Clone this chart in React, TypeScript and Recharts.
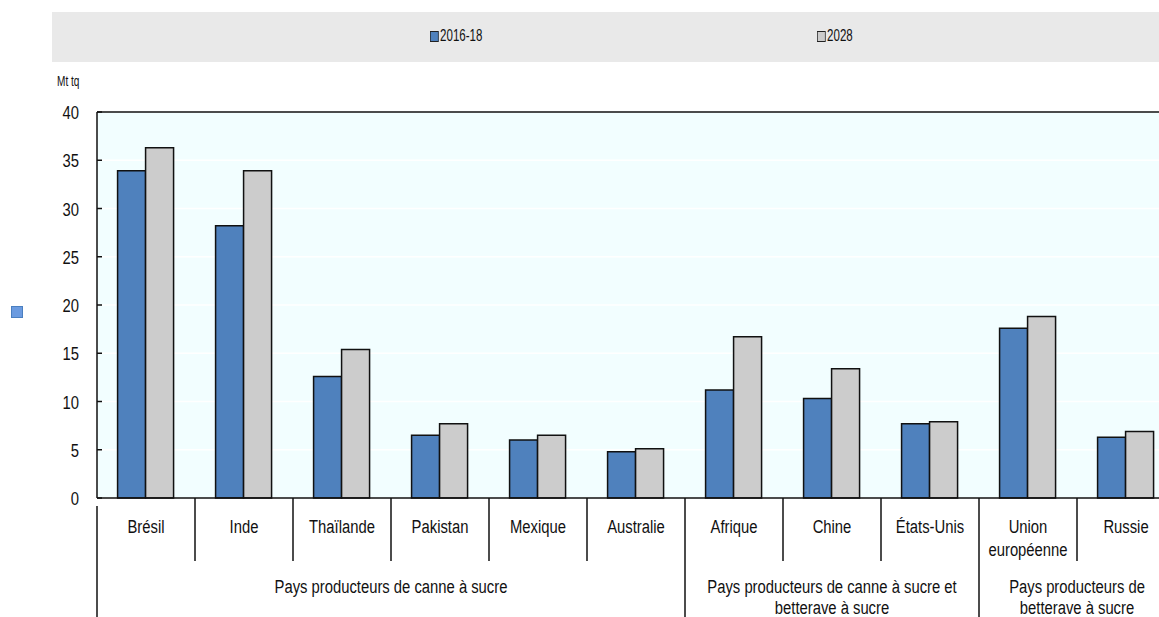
import React from 'react';
import { BarChart, Bar, XAxis, YAxis, CartesianGrid, ReferenceLine } from 'recharts';

const countries = ['Brésil', 'Inde', 'Thaïlande', 'Pakistan', 'Mexique', 'Australie', 'Afrique', 'Chine', 'États-Unis', 'Union\neuropéenne', 'Russie'];
const base201618 = [33.9, 28.2, 12.6, 6.5, 6.0, 4.8, 11.2, 10.3, 7.7, 17.6, 6.3];
const proj2028 = [36.3, 33.9, 15.4, 7.7, 6.5, 5.1, 16.7, 13.4, 7.9, 18.8, 6.9];
const seriesNames = ['2016-18', '2028'];
const yTicks = [0, 5, 10, 15, 20, 25, 30, 35, 40];
const groupNames = ['Pays producteurs de canne à sucre', 'Pays producteurs de canne à sucre et\nbetterave à sucre', 'Pays producteurs de\nbetterave à sucre'];
const groupSizes = [6, 3, 2];

// narrow look: Arial-metric font squeezed horizontally
const FONT = "'Liberation Sans', Arial, sans-serif";
const SQ = 0.78;
const BLUE = '#4f81bd';
const GREY = '#cccccc';
const INK = '#111';

const data = countries.map((c, i) => ({ name: c, a: base201618[i], b: proj2028[i] }));

const groupStarts = groupSizes.map((_, g) => groupSizes.slice(0, g).reduce((s, n) => s + n, 0));
const groupEnds = groupStarts.slice(1);

function NarrowText({ x, y, children, size = 19, anchor = 'middle' }: any) {
  return (
    <text transform={`translate(${x},${y}) scale(${SQ},1)`} x={0} y={0} textAnchor={anchor} fontSize={size} fill={INK} fontFamily={FONT}>
      {children}
    </text>
  );
}

function XTick(props: any) {
  const { x, y, payload, index } = props;
  const half = payload?.offset || 49;
  const left = x - half;
  const right = x + half;
  const lines = String(payload.value).split('\n');
  const isLast = index === countries.length - 1;
  const out: React.ReactNode[] = [];
  lines.forEach((l, k) => {
    out.push(<NarrowText key={'t' + k} x={x} y={y + 27 + k * 23}>{l}</NarrowText>);
  });
  if (index === 0) {
    out.push(<line key="ax" x1={left} x2={left} y1={y} y2={617} stroke={INK} strokeWidth={1.5} />);
  }
  if (!isLast) {
    const longOne = groupEnds.includes(index + 1);
    out.push(<line key="sep" x1={right} x2={right} y1={y - 8} y2={longOne ? 617 : 561} stroke={INK} strokeWidth={1.5} />);
  }
  const g = groupStarts.indexOf(index);
  if (g >= 0) {
    const cx = left + groupSizes[g] * half;
    groupNames[g].split('\n').forEach((l, k) => {
      out.push(<NarrowText key={'g' + k} x={cx} y={y + 87 + k * 21}>{l}</NarrowText>);
    });
  }
  return <g>{out}</g>;
}

function YTick(props: any) {
  const { x, y, payload } = props;
  return (
    <g>
      <line x1={x} x2={x + 5} y1={y} y2={y} stroke={INK} strokeWidth={1.5} />
      <NarrowText x={x - 18} y={y + 7} size={19} anchor="end">{payload.value}</NarrowText>
    </g>
  );
}

export default function App() {
  return (
    <div style={{ position: 'absolute', left: 0, top: 0, width: 1159, height: 617, overflow: 'hidden', background: '#fff', fontFamily: FONT }}>
      <div style={{ position: 'absolute', left: 52, top: 12, width: 1107, height: 50, background: '#e9e9e9' }}>
        {seriesNames.map((s, i) => (
          <div key={s} style={{ position: 'absolute', left: i === 0 ? 378 : 765, top: 15, display: 'flex', alignItems: 'center', fontSize: 16, color: INK, transform: 'scaleX(0.72)', transformOrigin: 'left center' }}>
            <span style={{ display: 'inline-block', width: 10, height: 9, background: i === 0 ? BLUE : GREY, border: '1px solid #222', marginRight: 2 }} />
            {s}
          </div>
        ))}
      </div>
      <div style={{ position: 'absolute', left: 57, top: 73, fontSize: 14, color: INK, transform: 'scaleX(0.72)', transformOrigin: 'left center' }}>Mt tq</div>
      <div style={{ position: 'absolute', left: 11, top: 306, width: 10, height: 10, background: '#6b9be0', border: '1px solid #4a7fc0' }} />
      <div style={{ position: 'absolute', left: 0, top: 0 }}>
        <BarChart width={1180} height={617} data={data} margin={{ top: 112, right: 5, bottom: 0, left: 0 }} barCategoryGap="21%" barGap={0}>
          <CartesianGrid fill="#f2feff" stroke="#ffffff" strokeWidth={1.5} vertical={false} />
          <XAxis dataKey="name" height={119} interval={0} tickLine={false} axisLine={{ stroke: INK, strokeWidth: 1.5 }} tick={<XTick />} />
          <YAxis domain={[0, 40]} ticks={yTicks} width={97} tickSize={0} tickMargin={0} interval={0} axisLine={{ stroke: INK, strokeWidth: 1.5 }} tick={<YTick />} />
          <ReferenceLine y={40} stroke={INK} strokeWidth={1.5} />
          <Bar dataKey="a" name={seriesNames[0]} fill={BLUE} stroke={INK} strokeWidth={1.5} isAnimationActive={false} />
          <Bar dataKey="b" name={seriesNames[1]} fill={GREY} stroke={INK} strokeWidth={1.5} isAnimationActive={false} />
        </BarChart>
      </div>
    </div>
  );
}
